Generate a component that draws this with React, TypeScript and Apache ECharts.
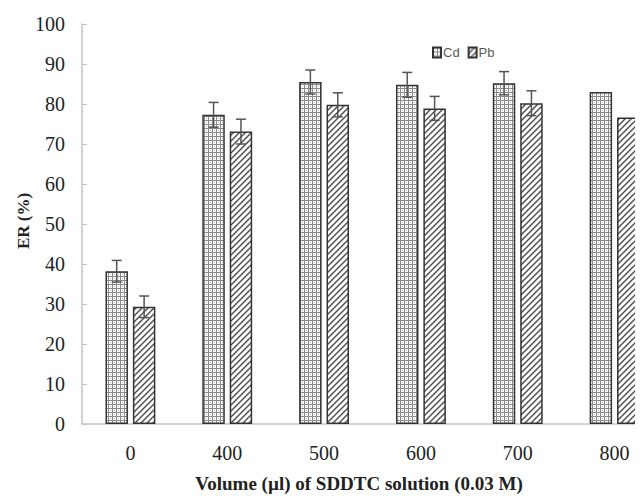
import React, { useEffect, useRef } from "react";
import * as echarts from "echarts";

const categories = ["0", "400", "500", "600", "700", "800"];
const cdValues = [38.2, 77.3, 85.5, 84.8, 85.2, 83.0];
const pbValues = [29.3, 73.1, 79.8, 78.9, 80.2, 76.6];
const cdErrors = [2.7, 3.1, 3.0, 3.1, 2.9, null];
const pbErrors = [2.7, 3.1, 3.0, 3.0, 3.1, null];
const yTicks = [0, 10, 20, 30, 40, 50, 60, 70, 80, 90, 100];
const seriesNames = ["Cd", "Pb"];
const xTitle = "Volume (\u00b5l) of SDDTC solution (0.03 M)";
const yTitle = "ER (%)";

function makeCdPattern() {
  const c = document.createElement("canvas");
  c.width = 4;
  c.height = 4;
  const ctx = c.getContext("2d")!;
  ctx.fillStyle = "#ffffff";
  ctx.fillRect(0, 0, 4, 4);
  ctx.fillStyle = "#8a8a8a";
  ctx.fillRect(0, 0, 1, 4);
  ctx.fillRect(0, 0, 4, 1);
  ctx.fillStyle = "#c4c4c4";
  ctx.fillRect(2, 2, 1, 1);
  return c;
}

function makePbPattern() {
  const s = 6;
  const c = document.createElement("canvas");
  c.width = s;
  c.height = s;
  const ctx = c.getContext("2d")!;
  ctx.fillStyle = "#ffffff";
  ctx.fillRect(0, 0, s, s);
  ctx.strokeStyle = "#4a4a4a";
  ctx.lineWidth = 1.4;
  ctx.beginPath();
  ctx.moveTo(0, s);
  ctx.lineTo(s, 0);
  ctx.moveTo(-1, 1);
  ctx.lineTo(1, -1);
  ctx.moveTo(s - 1, s + 1);
  ctx.lineTo(s + 1, s - 1);
  ctx.stroke();
  return c;
}

const BAR_W = 0.232;
const BAR_GAP = 0.22;

function errorSeries(values: number[], errors: (number | null)[], sign: number) {
  const data = values.map((v, i) => [i, v, errors[i] == null ? 0 : errors[i]]);
  return {
    type: "custom",
    silent: true,
    z: 10,
    data,
    encode: { x: 0, y: 1 },
    renderItem: (params: any, api: any) => {
      const idx = api.value(0);
      const val = api.value(1);
      const err = api.value(2);
      if (!err) return null;
      const band = api.size([1, 0])[0];
      const total = BAR_W * 2 + BAR_W * BAR_GAP;
      const offset = sign * (total / 2 - BAR_W / 2) * band;
      const top = api.coord([idx, val + err]);
      const bot = api.coord([idx, val - err]);
      const x = top[0] + offset;
      const cap = 5;
      const style = { stroke: "#555555", lineWidth: 1.5, fill: null };
      return {
        type: "group",
        children: [
          { type: "line", shape: { x1: x, y1: top[1], x2: x, y2: bot[1] }, style },
          { type: "line", shape: { x1: x - cap, y1: top[1], x2: x + cap, y2: top[1] }, style },
          { type: "line", shape: { x1: x - cap, y1: bot[1], x2: x + cap, y2: bot[1] }, style },
        ],
      };
    },
  };
}

export default function App() {
  const ref = useRef<HTMLDivElement>(null);
  useEffect(() => {
    if (!ref.current) return;
    const chart = echarts.init(ref.current, undefined, { renderer: "svg" });
    const cdPattern = { image: makeCdPattern(), repeat: "repeat" };
    const pbPattern = { image: makePbPattern(), repeat: "repeat" };
    const serif = "'Liberation Serif', 'Times New Roman', serif";
    chart.setOption({
      animation: false,
      backgroundColor: "#ffffff",
      grid: { left: 82, top: 24, bottom: 78, width: 581, containLabel: false },
      legend: {
        data: seriesNames,
        left: 427,
        top: 41,
        itemWidth: 8,
        itemHeight: 10,
        itemGap: 8,
        icon: "rect",
        textStyle: { fontFamily: "'Liberation Sans', Arial, sans-serif", fontSize: 13, color: "#595959", padding: [0, 0, 0, -3] },
      },
      xAxis: {
        type: "category",
        data: categories,
        axisLine: { lineStyle: { color: "#c4c4c4", width: 1.5 } },
        axisTick: { show: false },
        axisLabel: { fontFamily: serif, fontSize: 20, color: "#222222", margin: 19 },
      },
      yAxis: {
        type: "value",
        min: 0,
        max: 100,
        interval: 10,
        axisLine: { show: true, lineStyle: { color: "#c4c4c4", width: 1.5 } },
        axisTick: { show: true, inside: true, length: 5, lineStyle: { color: "#c4c4c4" } },
        splitLine: { show: false },
        axisLabel: {
          fontFamily: serif,
          fontSize: 20,
          color: "#222222",
          margin: 17,
          formatter: (v: number) => (yTicks.includes(v) ? String(v) : ""),
        },
      },
      graphic: [
        {
          type: "text",
          x: 359,
          y: 483,
          style: {
            text: xTitle,
            font: "bold 19px " + serif,
            fill: "#222222",
            textAlign: "center",
            textVerticalAlign: "middle",
          },
        },
        {
          type: "text",
          x: 23,
          y: 221,
          rotation: Math.PI / 2,
          style: {
            text: yTitle,
            font: "bold 17px " + serif,
            fill: "#222222",
            textAlign: "center",
            textVerticalAlign: "middle",
          },
        },
      ],
      series: [
        {
          name: seriesNames[0],
          type: "bar",
          data: cdValues,
          barWidth: BAR_W * 100 + "%",
          barGap: BAR_GAP * 100 + "%",
          itemStyle: { color: cdPattern, borderColor: "#333333", borderWidth: 1.5 },
        },
        {
          name: seriesNames[1],
          type: "bar",
          data: pbValues,
          barWidth: BAR_W * 100 + "%",
          barGap: BAR_GAP * 100 + "%",
          itemStyle: { color: pbPattern, borderColor: "#333333", borderWidth: 1.5 },
        },
        errorSeries(cdValues, cdErrors, -1),
        errorSeries(pbValues, pbErrors, 1),
      ],
    });
    return () => chart.dispose();
  }, []);
  return (
    <div style={{ width: 643, height: 502, margin: -8, overflow: "hidden", position: "relative" }}>
      <div ref={ref} style={{ width: 700, height: 502 }} />
    </div>
  );
}
